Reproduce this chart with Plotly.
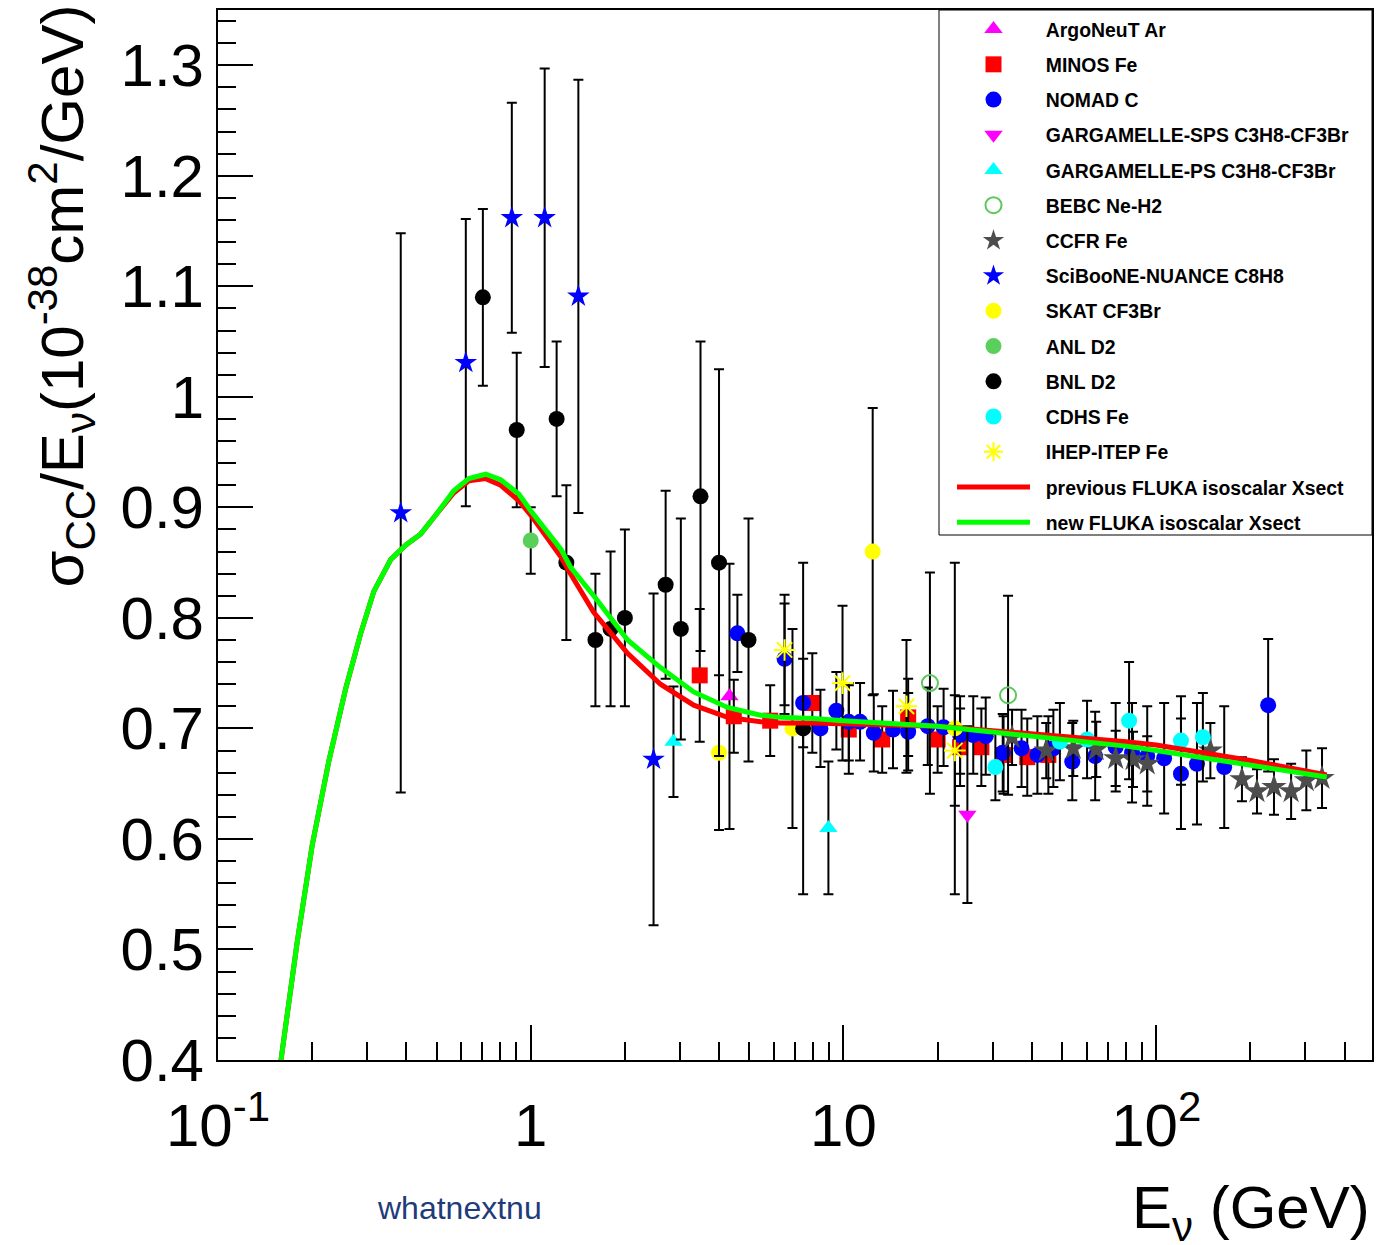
import plotly.graph_objects as go

# ---------------- data ----------------
argo_E = [4.32]
argo_v = [0.729]
argo_err = [0.12]

minos_E = [3.47, 4.46, 5.83, 7.95, 10.4, 13.3, 16.1, 20.0, 23.6, 27.6, 32.5, 38.7, 45.2]
minos_v = [0.748, 0.711, 0.707, 0.723, 0.699, 0.690, 0.710, 0.690, 0.683, 0.683, 0.676, 0.674, 0.676]
minos_err = [0.06, 0.033, 0.032, 0.045, 0.04, 0.03, 0.035, 0.03, 0.035, 0.035, 0.035, 0.035, 0.035]

nomad_E = [4.58, 6.48, 7.43, 8.44, 9.49, 10.4, 11.3, 12.5, 14.4, 16.1, 18.6, 20.9, 23.6, 26.0,
           28.5, 32.3, 37.1, 41.7, 46.9, 53.9, 63.8, 74.2, 83.7, 93.6, 106, 120, 135, 165, 228]
nomad_v = [0.786, 0.763, 0.723, 0.700, 0.716, 0.706, 0.706, 0.696, 0.699, 0.697, 0.702, 0.701, 0.694, 0.694,
           0.693, 0.678, 0.682, 0.676, 0.682, 0.670, 0.675, 0.683, 0.678, 0.675, 0.673, 0.659, 0.668, 0.665, 0.721]
nomad_err = [0.035, 0.05, 0.04, 0.035, 0.035, 0.035, 0.035, 0.035, 0.035, 0.035, 0.035, 0.035, 0.035, 0.035,
             0.035, 0.035, 0.035, 0.035, 0.035, 0.035, 0.04, 0.04, 0.045, 0.045, 0.05, 0.05, 0.055, 0.055, 0.06]

ggsps_E = [24.9]
ggsps_v = [0.622]
ggsps_err = [0.08]

ggps_E = [2.86, 8.95]
ggps_v = [0.688, 0.610]
ggps_err = [0.05, 0.06]

bebc_E = [18.9, 33.6]
bebc_v = [0.741, 0.730]
bebc_err = [0.10, 0.09]

ccfr_E = [34.6, 44.5, 54.3, 64.3, 74.2, 84.3, 93.6, 149, 188, 210, 238, 270, 302, 339]
ccfr_v = [0.692, 0.680, 0.682, 0.681, 0.673, 0.672, 0.668, 0.680, 0.654, 0.643, 0.647, 0.643, 0.653, 0.655]
ccfr_err = [0.025, 0.025, 0.025, 0.025, 0.025, 0.025, 0.025, 0.025, 0.02, 0.02, 0.025, 0.025, 0.027, 0.027]

scib_E = [0.384, 0.62, 0.87, 1.108, 1.42, 2.47]
scib_v = [0.895, 1.031, 1.162, 1.162, 1.091, 0.672]
scib_err = [0.253, 0.13, 0.104, 0.135, 0.196, 0.15]

skat_E = [4.0, 6.87, 12.4, 22.7]
skat_v = [0.678, 0.700, 0.860, 0.700]
skat_err = [0.07, 0.09, 0.13, 0.15]

anl_E = [1.0]
anl_v = [0.870]
anl_err = [0.03]

bnl_E = [0.703, 0.902, 1.21, 1.30, 1.61, 1.80, 2.0, 2.70, 3.02, 3.49, 4.0, 4.97, 7.43]
bnl_v = [1.09, 0.97, 0.98, 0.85, 0.78, 0.79, 0.80, 0.83, 0.79, 0.91, 0.85, 0.78, 0.70]
bnl_err = [0.08, 0.07, 0.07, 0.07, 0.06, 0.07, 0.08, 0.085, 0.10, 0.14, 0.175, 0.11, 0.15]

cdhs_E = [30.6, 49.2, 60.1, 81.9, 120, 141]
cdhs_v = [0.665, 0.688, 0.690, 0.707, 0.689, 0.692]
cdhs_err = [0.03, 0.035, 0.035, 0.053, 0.04, 0.04]

ihep_E = [6.48, 9.93, 15.9, 22.7]
ihep_v = [0.771, 0.741, 0.720, 0.680]
ihep_err = [0.05, 0.07, 0.06, 0.05]

curve_E = [0.159, 0.179, 0.20, 0.226, 0.256, 0.286, 0.315, 0.357, 0.399, 0.445, 0.50, 0.567,
           0.634, 0.718, 0.802, 0.916, 1.0, 1.13, 1.25, 1.34, 1.59, 2.04, 2.6, 3.32, 4.26,
           5.43, 6.29, 8, 10, 20, 30, 50, 80, 100, 200, 351]
prev_v = [0.40, 0.506, 0.594, 0.670, 0.736, 0.786, 0.824, 0.853, 0.866, 0.876, 0.894, 0.913,
          0.924, 0.926, 0.920, 0.906, 0.893, 0.872, 0.855, 0.840, 0.805, 0.768, 0.740, 0.721, 0.710,
          0.706, 0.705, 0.705, 0.704, 0.702, 0.698, 0.693, 0.688, 0.685, 0.671, 0.658]
new_v = [0.40, 0.506, 0.594, 0.670, 0.736, 0.786, 0.824, 0.853, 0.866, 0.876, 0.894, 0.915,
         0.926, 0.930, 0.925, 0.912, 0.897, 0.877, 0.862, 0.846, 0.820, 0.780, 0.755, 0.733, 0.719,
         0.712, 0.710, 0.709, 0.707, 0.702, 0.697, 0.690, 0.684, 0.680, 0.667, 0.656]

y_tickvals = [0.4, 0.5, 0.6, 0.7, 0.8, 0.9, 1.0, 1.1, 1.2, 1.3]
y_ticktext = ["0.4", "0.5", "0.6", "0.7", "0.8", "0.9", "1", "1.1", "1.2", "1.3"]
x_tickvals = [0.1, 1, 10, 100]
x_ticktext = ["10<sup>-1</sup>", "1", "10", "10<sup>2</sup>"]
x_minor = [0.2, 0.3, 0.4, 0.5, 0.6, 0.7, 0.8, 0.9, 2, 3, 4, 5, 6, 7, 8, 9,
           20, 30, 40, 50, 60, 70, 80, 90, 200, 300, 400]

# ---------------- figure ----------------
FONT = "Liberation Sans, Arial, Helvetica, sans-serif"
NB = "\u00a0\u00a0"
fig = go.Figure()

series = [
    ("ArgoNeuT Ar", argo_E, argo_v, argo_err, dict(symbol="triangle-up", color="#ff00ff", size=16)),
    ("MINOS Fe", minos_E, minos_v, minos_err, dict(symbol="square", color="#ff0000", size=16)),
    ("NOMAD C", nomad_E, nomad_v, nomad_err, dict(symbol="circle", color="#0000ff", size=16)),
    ("GARGAMELLE-SPS C3H8-CF3Br", ggsps_E, ggsps_v, ggsps_err, dict(symbol="triangle-down", color="#ff00ff", size=16)),
    ("GARGAMELLE-PS C3H8-CF3Br", ggps_E, ggps_v, ggps_err, dict(symbol="triangle-up", color="#00ffff", size=16)),
    ("BEBC Ne-H2", bebc_E, bebc_v, bebc_err, dict(symbol="circle-open", color="#5bc85b", size=16, line=dict(width=2, color="#5bc85b"))),
    ("CCFR Fe", ccfr_E, ccfr_v, ccfr_err, dict(symbol="star", color="#4d4d4d", size=19)),
    ("SciBooNE-NUANCE C8H8", scib_E, scib_v, scib_err, dict(symbol="star", color="#0000ff", size=17)),
    ("SKAT CF3Br", skat_E, skat_v, skat_err, dict(symbol="circle", color="#ffff00", size=16)),
    ("ANL D2", anl_E, anl_v, anl_err, dict(symbol="circle", color="#5bcf5b", size=16)),
    ("BNL D2", bnl_E, bnl_v, bnl_err, dict(symbol="circle", color="#000000", size=16)),
    ("CDHS Fe", cdhs_E, cdhs_v, cdhs_err, dict(symbol="circle", color="#00ffff", size=16)),
    ("IHEP-ITEP Fe", ihep_E, ihep_v, ihep_err, dict(symbol="asterisk-open", color="#ffff00", size=18, line=dict(width=2, color="#ffff00"))),
]

for i, (name, E, v, err, mk) in enumerate(series):
    fig.add_trace(go.Scatter(
        x=E, y=v, mode="markers", name=NB + name, legendgroup=f"g{i}",
        marker=mk,
        error_y=dict(type="data", array=err, visible=True, color="black", thickness=2, width=5),
    ))

fig.add_trace(go.Scatter(x=curve_E, y=prev_v, mode="lines", name=NB + "previous FLUKA isoscalar Xsect",
                         legendgroup="c1", line=dict(color="#ff0000", width=5)))
fig.add_trace(go.Scatter(x=curve_E, y=new_v, mode="lines", name=NB + "new FLUKA isoscalar Xsect",
                         legendgroup="c2", line=dict(color="#00ff00", width=5)))

fig.update_layout(
    width=1380, height=1245,
    margin=dict(l=218, r=8, t=10, b=185, autoexpand=False),
    paper_bgcolor="white", plot_bgcolor="white",
    font=dict(family=FONT, color="black"),
    showlegend=True,
    legend=dict(
        x=(952 - 218) / 1154, y=1.0, xanchor="left", yanchor="top",
        bgcolor="rgba(0,0,0,0)", borderwidth=0,
        font=dict(size=19.4, family=FONT, color="black", weight="bold"),
        tracegroupgap=7, itemwidth=73,
    ),
    shapes=[dict(type="rect", xref="paper", yref="paper",
                 x0=(939 - 218) / 1154, x1=1.0, y0=(1060 - 535) / 1050, y1=1.0,
                 line=dict(color="black", width=1), fillcolor="rgba(0,0,0,0)", layer="above")],
    xaxis=dict(
        type="log", range=[-1, 2.69],
        tickmode="array", tickvals=x_tickvals, ticktext=x_ticktext,
        ticks="inside", ticklen=35, tickwidth=2, tickcolor="black",
        showline=True, linecolor="black", linewidth=2, mirror=True,
        showgrid=False, zeroline=False,
        tickfont=dict(size=60, family=FONT),
        ticklabelstandoff=12,
        minor=dict(tickmode="array", tickvals=x_minor, ticks="inside", ticklen=18,
                   tickwidth=2, tickcolor="black", showgrid=False),
    ),
    yaxis=dict(
        range=[0.4, 1.35],
        tickmode="array", tickvals=y_tickvals, ticktext=y_ticktext,
        ticks="inside", ticklen=35, tickwidth=2, tickcolor="black",
        showline=True, linecolor="black", linewidth=2, mirror=True,
        showgrid=False, zeroline=False,
        tickfont=dict(size=60, family=FONT),
        ticklabelstandoff=0,
        minor=dict(dtick=0.02, tick0=0.4, ticks="inside", ticklen=18,
                   tickwidth=2, tickcolor="black", showgrid=False),
    ),
    annotations=[
        dict(text="\u03c3<sub>CC</sub>/E<sub>\u03bd</sub>(10<sup>-38</sup>cm<sup>2</sup>/GeV)",
             xref="paper", yref="paper", x=-0.1352, y=1.0076,
             xanchor="center", yanchor="top", textangle=-90, showarrow=False,
             font=dict(size=60, family=FONT, color="black")),
        dict(text="E<sub>\u03bd</sub> (GeV)", xref="paper", yref="paper",
             x=1.0, y=-0.145, xanchor="right", yanchor="middle", showarrow=False,
             font=dict(size=60, family=FONT, color="black")),
        dict(text="whatnextnu", xref="paper", yref="paper",
             x=0.2097, y=-0.141, xanchor="center", yanchor="middle", showarrow=False,
             font=dict(size=32, family="Liberation Sans Narrow, Arial Narrow, sans-serif", color="#1f3b7a")),
    ],
)

fig.write_html("out.html", config={"displayModeBar": False})

# remove the default page margin so the figure sits at the window's top-left corner
with open("out.html", "r", encoding="utf-8") as f:
    html = f.read()
html = html.replace("<head>", "<head><style>html,body{margin:0;padding:0;overflow:hidden;}</style>", 1)
with open("out.html", "w", encoding="utf-8") as f:
    f.write(html)
